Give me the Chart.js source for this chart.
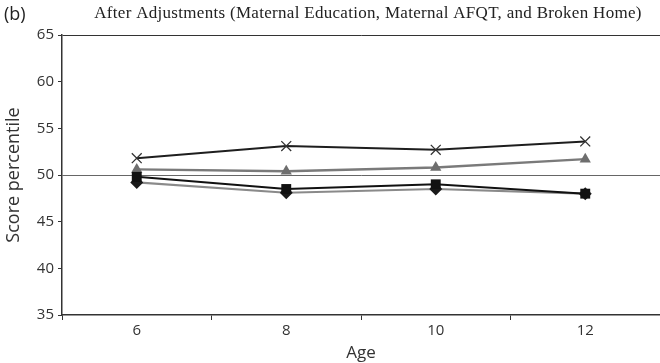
<!DOCTYPE html>
<html>
<head>
<meta charset="utf-8">
<script src="https://cdn.jsdelivr.net/npm/chart.js@4.4.1/dist/chart.umd.min.js"></script>
<style>
  html, body { margin: 0; padding: 0; background: #fff; }
  #wrap { width: 660px; height: 363px; }
</style>
</head>
<body>
<div id="wrap"><canvas id="c" width="660" height="363"></canvas></div>
<script>
// Ages on the horizontal axis
const ages = ['6', '8', '10', '12'];

// Score percentiles for each group (after adjustments)
const crossValues    = [51.8, 53.1, 52.7, 53.6];
const triangleValues = [50.6, 50.4, 50.8, 51.7];
const squareValues   = [49.8, 48.5, 49.0, 48.0];
const diamondValues  = [49.2, 48.1, 48.5, 48.0];

// Vertical axis range and step
const yMin = 35;
const yMax = 65;
const yStep = 5;

const panelLabel = '(b)';
const panelTitle = 'After Adjustments (Maternal Education, Maternal AFQT, and Broken Home)';

const headerPlugin = {
  id: 'header',
  afterDraw(chart) {
    const ctx = chart.ctx;
    ctx.save();
    ctx.fillStyle = '#222';
    ctx.textBaseline = 'alphabetic';
    ctx.textAlign = 'left';
    ctx.font = '18px "Open Sans"';
    ctx.fillText(panelLabel, 4, 20);
    ctx.font = '17px "Liberation Serif"';
    ctx.letterSpacing = '0.3px';
    ctx.textAlign = 'center';
    ctx.fillText(panelTitle, 368, 18);
    ctx.restore();
  }
};

new Chart(document.getElementById('c'), {
  type: 'line',
  data: {
    labels: ages,
    datasets: [
      {
        data: crossValues,
        borderColor: '#1e1e1e',
        borderWidth: 2,
        pointStyle: 'crossRot',
        pointRadius: 7,
        pointBorderWidth: 1.3,
        pointBorderColor: '#333',
        pointBackgroundColor: '#333'
      },
      {
        data: squareValues,
        borderColor: '#111',
        borderWidth: 2,
        pointStyle: 'rect',
        pointRadius: 7,
        pointBorderWidth: 0,
        pointBackgroundColor: '#111'
      },
      {
        data: diamondValues,
        borderColor: '#8a8a8a',
        borderWidth: 2.2,
        pointStyle: 'rectRot',
        pointRadius: 6.5,
        pointBorderWidth: 0,
        pointBackgroundColor: '#1a1a1a'
      },
      {
        data: triangleValues,
        borderColor: '#7a7a7a',
        borderWidth: 2.4,
        pointStyle: 'triangle',
        pointRadius: 6.5,
        pointBorderWidth: 0,
        pointBackgroundColor: '#6e6e6e'
      }
    ]
  },
  options: {
    responsive: false,
    animation: false,
    devicePixelRatio: 1,
    layout: { autoPadding: false, padding: { top: 35, right: 0, left: 0, bottom: 0 } },
    plugins: {
      legend: { display: false },
      tooltip: { enabled: false }
    },
    elements: { line: { tension: 0 } },
    scales: {
      x: {
        type: 'category',
        offset: true,
        grid: {
          offset: true,
          drawOnChartArea: false,
          drawTicks: true,
          tickLength: 5,
          color: '#333',
          lineWidth: 1
        },
        border: { color: '#333', width: 1.5 },
        ticks: {
          color: '#333',
          font: { family: '"Open Sans"', size: 15 },
          padding: 2,
          maxRotation: 0
        },
        title: {
          display: true,
          text: 'Age',
          color: '#333',
          font: { family: '"Open Sans"', size: 17 },
          padding: { top: -2, bottom: 0 }
        },
        afterFit(scale) { scale.height = 48; }
      },
      y: {
        min: yMin,
        max: yMax,
        ticks: {
          stepSize: yStep,
          color: '#333',
          font: { family: '"Open Sans"', size: 15 },
          padding: 4
        },
        grid: {
          drawTicks: true,
          tickLength: 4,
          tickColor: '#333',
          lineWidth: 1,
          color(c) {
            if (c.tick && c.tick.value === yMax) return '#333';
            if (c.tick && c.tick.value === 50) return '#666';
            return 'rgba(0,0,0,0)';
          }
        },
        border: { color: '#333', width: 1.5 },
        title: {
          display: true,
          text: 'Score percentile',
          color: '#333',
          font: { family: '"Open Sans"', size: 18 },
          padding: { top: 3, bottom: 0 }
        },
        afterFit(scale) { scale.width = 62; }
      }
    }
  },
  plugins: [headerPlugin]
});
</script>
</body>
</html>
